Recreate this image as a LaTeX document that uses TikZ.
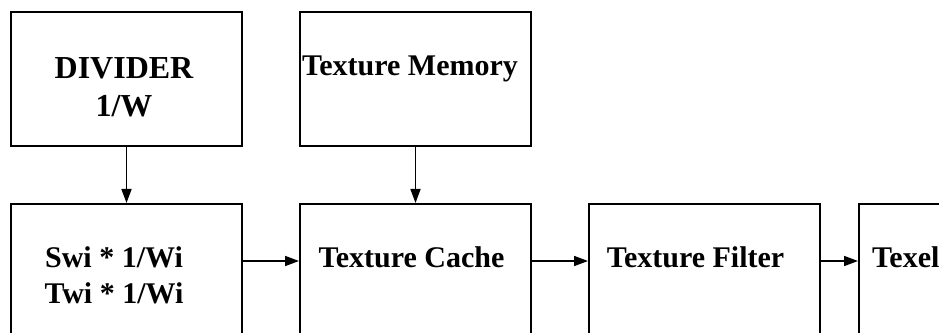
\documentclass[tikz,border=0pt]{standalone}
\usepackage{fontspec}
\setmainfont{Liberation Serif}
\usetikzlibrary{positioning,arrows.meta,calc}

\begin{document}
\begin{tikzpicture}[x=1pt,y=1pt,
    blk/.style={draw, line width=2pt, minimum width=231pt, inner sep=0pt},
    lbl/.style={font=\bfseries\fontsize{30}{35}\selectfont, align=center, inner sep=0pt, anchor=base},
    arr/.style={-{Triangle[length=14pt,width=10pt]}, line width=1.6pt}]
    \useasboundingbox (0,0) rectangle (939,332);
    \clip (0,0) rectangle (939,332);
    % upper row
    \node[blk, minimum height=134pt] (divider) at (126.5,253) {};
    \node[blk, minimum height=134pt, right=56pt of divider] (memory) {};
    % lower row, runs off the bottom and right edges
    \node[blk, minimum height=189pt, anchor=north] (swi) at (126.5,129) {};
    \node[blk, minimum height=189pt, right=56pt of swi] (cache) {};
    \node[blk, minimum height=189pt, right=56pt of cache] (filter) {};
    \node[blk, minimum height=189pt, right=37pt of filter] (texel) {};
    % texts (base of a two-line node is its last line)
    \node[lbl, font=\bfseries\fontsize{32}{35}\selectfont] (divtxt) at ($(divider.north)+(-2.5,-106)$) {DIVIDER\\[3pt]1/W};
    \node[lbl] (memtxt) at ($(memory.north)+(-5.5,-65)$) {Texture Memory};
    \node[lbl] (switxt) at ($(swi.north)+(-12.5,-100)$) {Swi * 1/Wi\\Twi * 1/Wi};
    \node[lbl] (cachetxt) at ($(cache.north)+(-4,-65)$) {Texture Cache};
    \node[lbl] (filtertxt) at ($(filter.north)+(-9,-65)$) {Texture Filter};
    \node[lbl, anchor=base west] (texeltxt) at ($(texel.north west)+(14,-65)$) {Texel};
    % connectors
    \draw[arr] (divider) -- (swi);
    \draw[arr] (memory) -- (cache);
    \draw[arr] ($(swi.north east)+(0,-58)$) -- ($(cache.north west)+(0,-58)$);
    \draw[arr] ($(cache.north east)+(0,-58)$) -- ($(filter.north west)+(0,-58)$);
    \draw[arr] ($(filter.north east)+(0,-58)$) -- ($(texel.north west)+(0,-58)$);
\end{tikzpicture}
\end{document}
